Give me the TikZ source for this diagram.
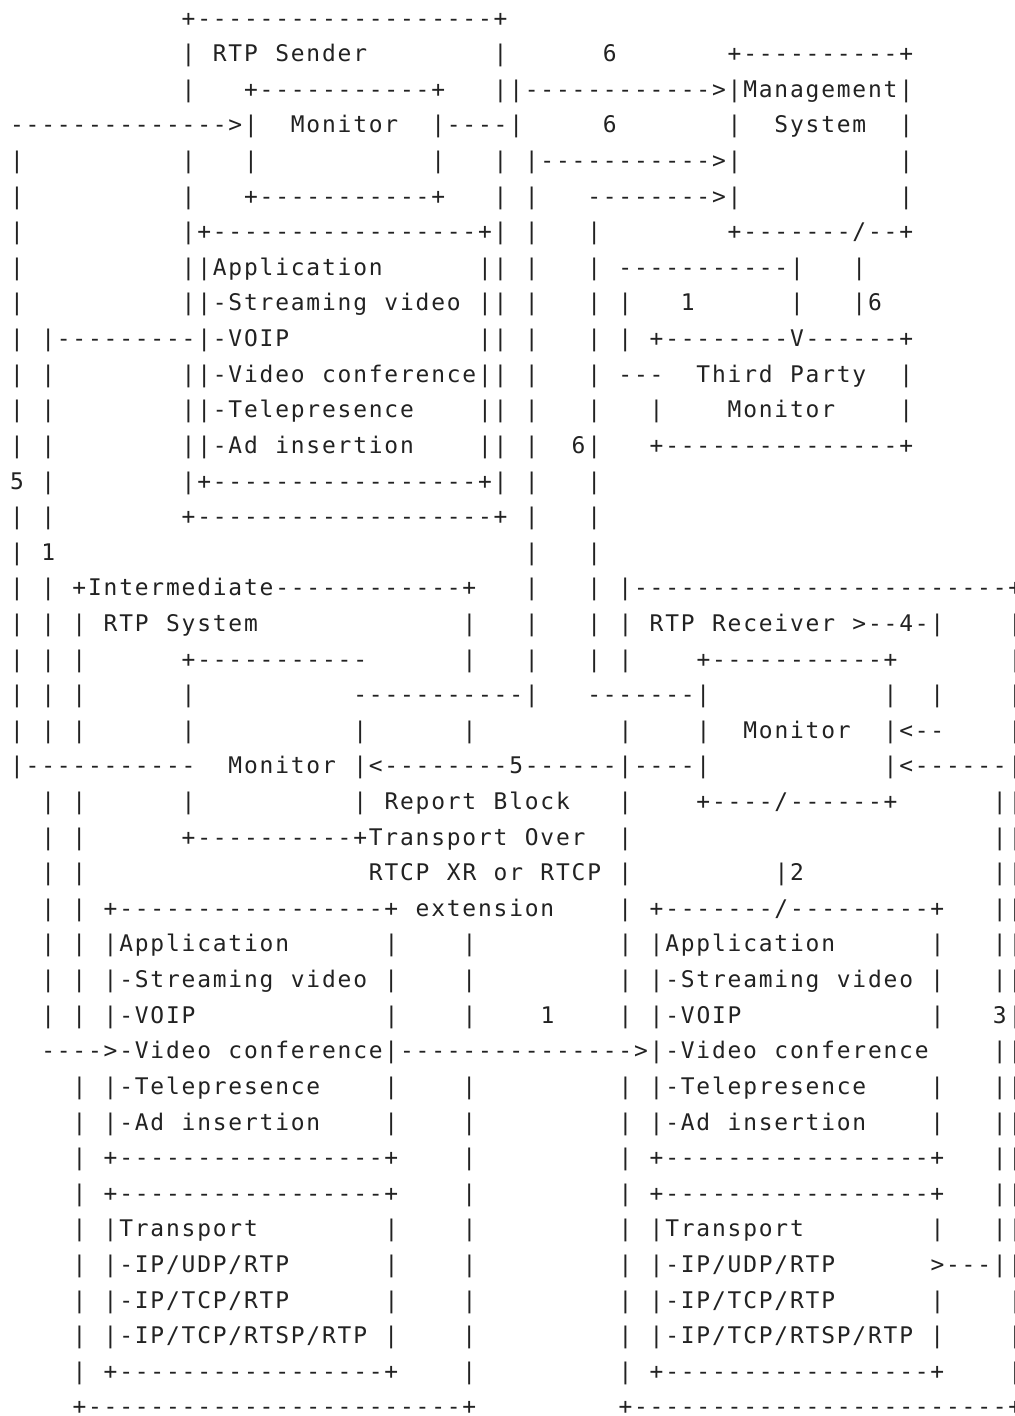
\documentclass[tikz,border=0pt]{standalone}
\usepackage{fontspec}
\newfontfamily\ascfont{DejaVu Sans Mono}
\definecolor{ink}{RGB}{34,34,34}
\newdimen\ascw \ascw=7.8pt
\ExplSyntaxOn
\cs_new:Npn \Spc #1 { \prg_replicate:nn {#1} {.} }
\cs_new:Npn \Dsh #1 { \prg_replicate:nn {#1} {-} }
\tl_new:N \l_asc_tl
\NewDocumentCommand \asc { m }
  {
    \tl_set:Nx \l_asc_tl {#1}
    \tl_map_inline:Nn \l_asc_tl
      {
        \tl_if_eq:nnTF {##1} {.}
          { \hbox_to_wd:nn {\ascw} { } }
          { \hbox_to_wd:nn {\ascw} { \hfil ##1 \hfil } }
      }
  }
\ExplSyntaxOff
\begin{document}
\begin{tikzpicture}[x=0.5pt,y=-0.5pt,
  ascline/.style={anchor=base west, inner sep=0pt, outer sep=0pt,
    font=\ascfont\fontsize{11.45pt}{14pt}\selectfont, text=ink}]
\fill[white] (0,0) rectangle (1015,1416);
\useasboundingbox (0,0) rectangle (1015,1416);
\newcommand\rowL[2]{\node[ascline] (r#1) at (9.2,{26.1+(#1-1)*35.61}) {\asc{#2}};}
\rowL{1}{\Spc{11}+\Dsh{19}+}
\rowL{2}{\Spc{11}|.RTP.Sender\Spc{8}|\Spc{6}6\Spc{7}+\Dsh{10}+}
\rowL{3}{\Spc{11}|\Spc{3}+\Dsh{11}+\Spc{3}||\Dsh{12}>|Management|}
\rowL{4}{\Dsh{14}>|\Spc{2}Monitor\Spc{2}|\Dsh{4}|\Spc{5}6\Spc{7}|\Spc{2}System\Spc{2}|}
\rowL{5}{|\Spc{10}|\Spc{3}|\Spc{11}|\Spc{3}|.|\Dsh{11}>|\Spc{10}|}
\rowL{6}{|\Spc{10}|\Spc{3}+\Dsh{11}+\Spc{3}|.|\Spc{3}\Dsh{8}>|\Spc{10}|}
\rowL{7}{|\Spc{10}|+\Dsh{17}+|.|\Spc{3}|\Spc{8}+\Dsh{7}/\Dsh{2}+}
\rowL{8}{|\Spc{10}||Application\Spc{6}||.|\Spc{3}|.\Dsh{11}|\Spc{3}|}
\rowL{9}{|\Spc{10}||-Streaming.video.||.|\Spc{3}|.|\Spc{3}1\Spc{6}|\Spc{3}|6}
\rowL{10}{|.|\Dsh{9}|-VOIP\Spc{12}||.|\Spc{3}|.|.+\Dsh{8}V\Dsh{6}+}
\rowL{11}{|.|\Spc{8}||-Video.conference||.|\Spc{3}|.\Dsh{3}\Spc{2}Third.Party\Spc{2}|}
\rowL{12}{|.|\Spc{8}||-Telepresence\Spc{4}||.|\Spc{3}|\Spc{3}|\Spc{4}Monitor\Spc{4}|}
\rowL{13}{|.|\Spc{8}||-Ad.insertion\Spc{4}||.|\Spc{2}6|\Spc{3}+\Dsh{15}+}
\rowL{14}{5.|\Spc{8}|+\Dsh{17}+|.|\Spc{3}|}
\rowL{15}{|.|\Spc{8}+\Dsh{19}+.|\Spc{3}|}
\rowL{16}{|.1\Spc{30}|\Spc{3}|}
\rowL{17}{|.|.+Intermediate\Dsh{12}+\Spc{3}|\Spc{3}|.|\Dsh{24}+}
\rowL{18}{|.|.|.RTP.System\Spc{13}|\Spc{3}|\Spc{3}|.|.RTP.Receiver.>--4-|\Spc{4}|}
\rowL{19}{|.|.|\Spc{6}+\Dsh{11}\Spc{6}|\Spc{3}|\Spc{3}|.|\Spc{4}+\Dsh{11}+\Spc{7}|}
\rowL{20}{|.|.|\Spc{6}|\Spc{10}\Dsh{11}|\Spc{3}\Dsh{7}|\Spc{11}|\Spc{2}|\Spc{4}|}
\rowL{21}{|.|.|\Spc{6}|\Spc{10}|\Spc{6}|\Spc{9}|\Spc{4}|\Spc{2}Monitor\Spc{2}|<--\Spc{4}|}
\rowL{22}{|\Dsh{11}\Spc{2}Monitor.|<\Dsh{8}5\Dsh{6}|\Dsh{4}|\Spc{11}|<\Dsh{6}|}
\rowL{23}{..|.|\Spc{6}|\Spc{10}|.Report.Block\Spc{3}|\Spc{4}+\Dsh{4}/\Dsh{6}+\Spc{6}||}
\rowL{24}{..|.|\Spc{6}+\Dsh{10}+Transport.Over\Spc{2}|\Spc{23}||}
\rowL{25}{..|.|\Spc{18}RTCP.XR.or.RTCP.|\Spc{9}|2\Spc{12}||}
\rowL{26}{..|.|.+\Dsh{17}+.extension\Spc{4}|.+\Dsh{7}/\Dsh{9}+\Spc{3}||}
\rowL{27}{..|.|.|Application\Spc{6}|\Spc{4}|\Spc{9}|.|Application\Spc{6}|\Spc{3}||}
\rowL{28}{..|.|.|-Streaming.video.|\Spc{4}|\Spc{9}|.|-Streaming.video.|\Spc{3}||}
\rowL{29}{..|.|.|-VOIP\Spc{12}|\Spc{4}|\Spc{4}1\Spc{4}|.|-VOIP\Spc{12}|\Spc{3}3|}
\rowL{30}{..\Dsh{4}>-Video.conference|\Dsh{15}>|-Video.conference\Spc{4}||}
\rowL{31}{\Spc{4}|.|-Telepresence\Spc{4}|\Spc{4}|\Spc{9}|.|-Telepresence\Spc{4}|\Spc{3}||}
\rowL{32}{\Spc{4}|.|-Ad.insertion\Spc{4}|\Spc{4}|\Spc{9}|.|-Ad.insertion\Spc{4}|\Spc{3}||}
\rowL{33}{\Spc{4}|.+\Dsh{17}+\Spc{4}|\Spc{9}|.+\Dsh{17}+\Spc{3}||}
\rowL{34}{\Spc{4}|.+\Dsh{17}+\Spc{4}|\Spc{9}|.+\Dsh{17}+\Spc{3}||}
\rowL{35}{\Spc{4}|.|Transport\Spc{8}|\Spc{4}|\Spc{9}|.|Transport\Spc{8}|\Spc{3}||}
\rowL{36}{\Spc{4}|.|-IP/UDP/RTP\Spc{6}|\Spc{4}|\Spc{9}|.|-IP/UDP/RTP\Spc{6}>---||}
\rowL{37}{\Spc{4}|.|-IP/TCP/RTP\Spc{6}|\Spc{4}|\Spc{9}|.|-IP/TCP/RTP\Spc{6}|\Spc{4}|}
\rowL{38}{\Spc{4}|.|-IP/TCP/RTSP/RTP.|\Spc{4}|\Spc{9}|.|-IP/TCP/RTSP/RTP.|\Spc{4}|}
\rowL{39}{\Spc{4}|.+\Dsh{17}+\Spc{4}|\Spc{9}|.+\Dsh{17}+\Spc{4}|}
\rowL{40}{\Spc{4}+\Dsh{24}+\Spc{9}+\Dsh{24}+}
\end{tikzpicture}
\end{document}
